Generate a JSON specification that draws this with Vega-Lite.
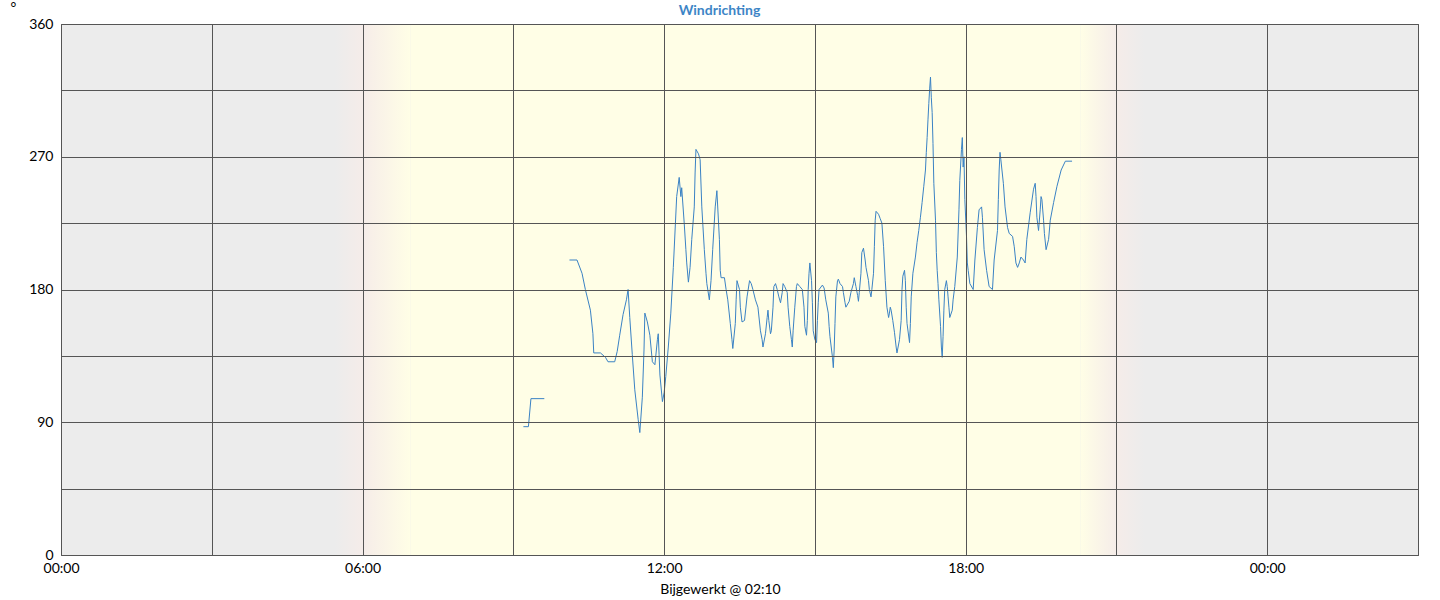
{
  "$schema": "https://vega.github.io/schema/vega-lite/v6.json",
  "width": 1357,
  "height": 531,
  "autosize": {"type": "none"},
  "padding": {"left": 61, "top": 24, "right": 22, "bottom": 45},
  "background": "#ffffff",
  "title": {"text": "Windrichting", "anchor": "middle", "frame": "group", "dx": -20, "dy": 26, "offset": 8, "fontSize": 14, "font": "Lato", "fontWeight": "bold", "color": "#3d85c6"},
  "datasets": {
    "wind": [
      {"seg": "a", "time": "09:12", "dir": 87},
      {"seg": "a", "time": "09:18", "dir": 87},
      {"seg": "a", "time": "09:21", "dir": 106},
      {"seg": "a", "time": "09:37", "dir": 106},
      {"seg": "b", "time": "10:07", "dir": 200},
      {"seg": "b", "time": "10:16", "dir": 200},
      {"seg": "b", "time": "10:22", "dir": 191},
      {"seg": "b", "time": "10:26", "dir": 180},
      {"seg": "b", "time": "10:32", "dir": 166},
      {"seg": "b", "time": "10:35", "dir": 150},
      {"seg": "b", "time": "10:36", "dir": 137},
      {"seg": "b", "time": "10:44", "dir": 137},
      {"seg": "b", "time": "10:50", "dir": 134},
      {"seg": "b", "time": "10:53", "dir": 131},
      {"seg": "b", "time": "11:01", "dir": 131},
      {"seg": "b", "time": "11:04", "dir": 138},
      {"seg": "b", "time": "11:07", "dir": 149},
      {"seg": "b", "time": "11:11", "dir": 163},
      {"seg": "b", "time": "11:15", "dir": 173},
      {"seg": "b", "time": "11:17", "dir": 180},
      {"seg": "b", "time": "11:19", "dir": 161},
      {"seg": "b", "time": "11:22", "dir": 136},
      {"seg": "b", "time": "11:25", "dir": 112},
      {"seg": "b", "time": "11:29", "dir": 92},
      {"seg": "b", "time": "11:31", "dir": 83},
      {"seg": "b", "time": "11:34", "dir": 107},
      {"seg": "b", "time": "11:36", "dir": 139},
      {"seg": "b", "time": "11:37", "dir": 164},
      {"seg": "b", "time": "11:40", "dir": 158},
      {"seg": "b", "time": "11:43", "dir": 149},
      {"seg": "b", "time": "11:46", "dir": 131},
      {"seg": "b", "time": "11:49", "dir": 129},
      {"seg": "b", "time": "11:52", "dir": 146},
      {"seg": "b", "time": "11:53", "dir": 150},
      {"seg": "b", "time": "11:54", "dir": 136},
      {"seg": "b", "time": "11:55", "dir": 122},
      {"seg": "b", "time": "11:58", "dir": 104},
      {"seg": "b", "time": "12:00", "dir": 110},
      {"seg": "b", "time": "12:02", "dir": 121},
      {"seg": "b", "time": "12:05", "dir": 141},
      {"seg": "b", "time": "12:08", "dir": 164},
      {"seg": "b", "time": "12:11", "dir": 195},
      {"seg": "b", "time": "12:15", "dir": 243},
      {"seg": "b", "time": "12:18", "dir": 256},
      {"seg": "b", "time": "12:20", "dir": 243},
      {"seg": "b", "time": "12:21", "dir": 249},
      {"seg": "b", "time": "12:24", "dir": 225},
      {"seg": "b", "time": "12:26", "dir": 207},
      {"seg": "b", "time": "12:27", "dir": 198},
      {"seg": "b", "time": "12:29", "dir": 185},
      {"seg": "b", "time": "12:31", "dir": 195},
      {"seg": "b", "time": "12:33", "dir": 214},
      {"seg": "b", "time": "12:36", "dir": 236},
      {"seg": "b", "time": "12:37", "dir": 259},
      {"seg": "b", "time": "12:38", "dir": 275},
      {"seg": "b", "time": "12:41", "dir": 272},
      {"seg": "b", "time": "12:43", "dir": 268},
      {"seg": "b", "time": "12:45", "dir": 236},
      {"seg": "b", "time": "12:48", "dir": 207},
      {"seg": "b", "time": "12:50", "dir": 191},
      {"seg": "b", "time": "12:51", "dir": 184},
      {"seg": "b", "time": "12:54", "dir": 173},
      {"seg": "b", "time": "12:56", "dir": 186},
      {"seg": "b", "time": "12:58", "dir": 207},
      {"seg": "b", "time": "13:01", "dir": 236},
      {"seg": "b", "time": "13:03", "dir": 247},
      {"seg": "b", "time": "13:06", "dir": 214},
      {"seg": "b", "time": "13:07", "dir": 193},
      {"seg": "b", "time": "13:08", "dir": 188},
      {"seg": "b", "time": "13:12", "dir": 188},
      {"seg": "b", "time": "13:14", "dir": 180},
      {"seg": "b", "time": "13:16", "dir": 173},
      {"seg": "b", "time": "13:19", "dir": 157},
      {"seg": "b", "time": "13:21", "dir": 146},
      {"seg": "b", "time": "13:22", "dir": 140},
      {"seg": "b", "time": "13:25", "dir": 157},
      {"seg": "b", "time": "13:26", "dir": 173},
      {"seg": "b", "time": "13:27", "dir": 186},
      {"seg": "b", "time": "13:30", "dir": 180},
      {"seg": "b", "time": "13:31", "dir": 168},
      {"seg": "b", "time": "13:33", "dir": 158},
      {"seg": "b", "time": "13:36", "dir": 159},
      {"seg": "b", "time": "13:39", "dir": 175},
      {"seg": "b", "time": "13:42", "dir": 186},
      {"seg": "b", "time": "13:44", "dir": 184},
      {"seg": "b", "time": "13:46", "dir": 180},
      {"seg": "b", "time": "13:49", "dir": 173},
      {"seg": "b", "time": "13:52", "dir": 168},
      {"seg": "b", "time": "13:55", "dir": 152},
      {"seg": "b", "time": "13:57", "dir": 146},
      {"seg": "b", "time": "13:58", "dir": 141},
      {"seg": "b", "time": "14:01", "dir": 150},
      {"seg": "b", "time": "14:03", "dir": 161},
      {"seg": "b", "time": "14:04", "dir": 166},
      {"seg": "b", "time": "14:05", "dir": 159},
      {"seg": "b", "time": "14:07", "dir": 150},
      {"seg": "b", "time": "14:08", "dir": 152},
      {"seg": "b", "time": "14:10", "dir": 168},
      {"seg": "b", "time": "14:11", "dir": 182},
      {"seg": "b", "time": "14:13", "dir": 184},
      {"seg": "b", "time": "14:15", "dir": 180},
      {"seg": "b", "time": "14:17", "dir": 175},
      {"seg": "b", "time": "14:19", "dir": 171},
      {"seg": "b", "time": "14:21", "dir": 178},
      {"seg": "b", "time": "14:22", "dir": 184},
      {"seg": "b", "time": "14:24", "dir": 182},
      {"seg": "b", "time": "14:27", "dir": 178},
      {"seg": "b", "time": "14:28", "dir": 168},
      {"seg": "b", "time": "14:30", "dir": 155},
      {"seg": "b", "time": "14:32", "dir": 146},
      {"seg": "b", "time": "14:33", "dir": 141},
      {"seg": "b", "time": "14:34", "dir": 152},
      {"seg": "b", "time": "14:36", "dir": 168},
      {"seg": "b", "time": "14:38", "dir": 182},
      {"seg": "b", "time": "14:39", "dir": 184},
      {"seg": "b", "time": "14:42", "dir": 182},
      {"seg": "b", "time": "14:45", "dir": 180},
      {"seg": "b", "time": "14:47", "dir": 168},
      {"seg": "b", "time": "14:48", "dir": 155},
      {"seg": "b", "time": "14:50", "dir": 149},
      {"seg": "b", "time": "14:51", "dir": 159},
      {"seg": "b", "time": "14:52", "dir": 180},
      {"seg": "b", "time": "14:53", "dir": 191},
      {"seg": "b", "time": "14:54", "dir": 198},
      {"seg": "b", "time": "14:56", "dir": 186},
      {"seg": "b", "time": "14:57", "dir": 171},
      {"seg": "b", "time": "14:58", "dir": 152},
      {"seg": "b", "time": "15:00", "dir": 146},
      {"seg": "b", "time": "15:02", "dir": 144},
      {"seg": "b", "time": "15:03", "dir": 159},
      {"seg": "b", "time": "15:04", "dir": 171},
      {"seg": "b", "time": "15:05", "dir": 180},
      {"seg": "b", "time": "15:09", "dir": 183},
      {"seg": "b", "time": "15:11", "dir": 181},
      {"seg": "b", "time": "15:13", "dir": 173},
      {"seg": "b", "time": "15:16", "dir": 164},
      {"seg": "b", "time": "15:17", "dir": 155},
      {"seg": "b", "time": "15:18", "dir": 148},
      {"seg": "b", "time": "15:21", "dir": 134},
      {"seg": "b", "time": "15:22", "dir": 127},
      {"seg": "b", "time": "15:23", "dir": 139},
      {"seg": "b", "time": "15:24", "dir": 157},
      {"seg": "b", "time": "15:25", "dir": 175},
      {"seg": "b", "time": "15:27", "dir": 186},
      {"seg": "b", "time": "15:28", "dir": 187},
      {"seg": "b", "time": "15:30", "dir": 184},
      {"seg": "b", "time": "15:33", "dir": 182},
      {"seg": "b", "time": "15:34", "dir": 178},
      {"seg": "b", "time": "15:36", "dir": 171},
      {"seg": "b", "time": "15:37", "dir": 168},
      {"seg": "b", "time": "15:41", "dir": 172},
      {"seg": "b", "time": "15:43", "dir": 178},
      {"seg": "b", "time": "15:46", "dir": 184},
      {"seg": "b", "time": "15:47", "dir": 188},
      {"seg": "b", "time": "15:49", "dir": 182},
      {"seg": "b", "time": "15:51", "dir": 176},
      {"seg": "b", "time": "15:52", "dir": 172},
      {"seg": "b", "time": "15:53", "dir": 178},
      {"seg": "b", "time": "15:55", "dir": 191},
      {"seg": "b", "time": "15:56", "dir": 205},
      {"seg": "b", "time": "15:58", "dir": 208},
      {"seg": "b", "time": "16:00", "dir": 200},
      {"seg": "b", "time": "16:01", "dir": 195},
      {"seg": "b", "time": "16:04", "dir": 186},
      {"seg": "b", "time": "16:05", "dir": 180},
      {"seg": "b", "time": "16:07", "dir": 175},
      {"seg": "b", "time": "16:08", "dir": 180},
      {"seg": "b", "time": "16:10", "dir": 191},
      {"seg": "b", "time": "16:11", "dir": 209},
      {"seg": "b", "time": "16:12", "dir": 227},
      {"seg": "b", "time": "16:13", "dir": 233},
      {"seg": "b", "time": "16:16", "dir": 231},
      {"seg": "b", "time": "16:18", "dir": 228},
      {"seg": "b", "time": "16:20", "dir": 225},
      {"seg": "b", "time": "16:22", "dir": 209},
      {"seg": "b", "time": "16:24", "dir": 186},
      {"seg": "b", "time": "16:26", "dir": 168},
      {"seg": "b", "time": "16:28", "dir": 161},
      {"seg": "b", "time": "16:29", "dir": 164},
      {"seg": "b", "time": "16:30", "dir": 168},
      {"seg": "b", "time": "16:31", "dir": 166},
      {"seg": "b", "time": "16:33", "dir": 159},
      {"seg": "b", "time": "16:35", "dir": 151},
      {"seg": "b", "time": "16:37", "dir": 141},
      {"seg": "b", "time": "16:38", "dir": 137},
      {"seg": "b", "time": "16:41", "dir": 146},
      {"seg": "b", "time": "16:43", "dir": 159},
      {"seg": "b", "time": "16:44", "dir": 180},
      {"seg": "b", "time": "16:45", "dir": 189},
      {"seg": "b", "time": "16:47", "dir": 193},
      {"seg": "b", "time": "16:48", "dir": 186},
      {"seg": "b", "time": "16:49", "dir": 168},
      {"seg": "b", "time": "16:50", "dir": 157},
      {"seg": "b", "time": "16:53", "dir": 144},
      {"seg": "b", "time": "16:54", "dir": 157},
      {"seg": "b", "time": "16:55", "dir": 175},
      {"seg": "b", "time": "16:57", "dir": 191},
      {"seg": "b", "time": "17:00", "dir": 202},
      {"seg": "b", "time": "17:02", "dir": 212},
      {"seg": "b", "time": "17:04", "dir": 220},
      {"seg": "b", "time": "17:06", "dir": 229},
      {"seg": "b", "time": "17:08", "dir": 239},
      {"seg": "b", "time": "17:10", "dir": 250},
      {"seg": "b", "time": "17:12", "dir": 261},
      {"seg": "b", "time": "17:13", "dir": 273},
      {"seg": "b", "time": "17:14", "dir": 283},
      {"seg": "b", "time": "17:15", "dir": 295},
      {"seg": "b", "time": "17:16", "dir": 306},
      {"seg": "b", "time": "17:17", "dir": 316},
      {"seg": "b", "time": "17:18", "dir": 324},
      {"seg": "b", "time": "17:19", "dir": 310},
      {"seg": "b", "time": "17:20", "dir": 300},
      {"seg": "b", "time": "17:21", "dir": 279},
      {"seg": "b", "time": "17:22", "dir": 252},
      {"seg": "b", "time": "17:24", "dir": 227},
      {"seg": "b", "time": "17:25", "dir": 205},
      {"seg": "b", "time": "17:26", "dir": 193},
      {"seg": "b", "time": "17:27", "dir": 184},
      {"seg": "b", "time": "17:28", "dir": 173},
      {"seg": "b", "time": "17:30", "dir": 155},
      {"seg": "b", "time": "17:31", "dir": 141},
      {"seg": "b", "time": "17:32", "dir": 134},
      {"seg": "b", "time": "17:33", "dir": 148},
      {"seg": "b", "time": "17:34", "dir": 166},
      {"seg": "b", "time": "17:35", "dir": 180},
      {"seg": "b", "time": "17:37", "dir": 186},
      {"seg": "b", "time": "17:38", "dir": 182},
      {"seg": "b", "time": "17:39", "dir": 175},
      {"seg": "b", "time": "17:40", "dir": 168},
      {"seg": "b", "time": "17:41", "dir": 161},
      {"seg": "b", "time": "17:44", "dir": 166},
      {"seg": "b", "time": "17:45", "dir": 173},
      {"seg": "b", "time": "17:47", "dir": 182},
      {"seg": "b", "time": "17:50", "dir": 202},
      {"seg": "b", "time": "17:52", "dir": 234},
      {"seg": "b", "time": "17:53", "dir": 254},
      {"seg": "b", "time": "17:55", "dir": 275},
      {"seg": "b", "time": "17:56", "dir": 283},
      {"seg": "b", "time": "17:57", "dir": 263},
      {"seg": "b", "time": "17:58", "dir": 270},
      {"seg": "b", "time": "17:59", "dir": 241},
      {"seg": "b", "time": "18:01", "dir": 216},
      {"seg": "b", "time": "18:02", "dir": 198},
      {"seg": "b", "time": "18:03", "dir": 193},
      {"seg": "b", "time": "18:05", "dir": 184},
      {"seg": "b", "time": "18:09", "dir": 180},
      {"seg": "b", "time": "18:11", "dir": 200},
      {"seg": "b", "time": "18:14", "dir": 222},
      {"seg": "b", "time": "18:16", "dir": 234},
      {"seg": "b", "time": "18:19", "dir": 236},
      {"seg": "b", "time": "18:20", "dir": 229},
      {"seg": "b", "time": "18:22", "dir": 207},
      {"seg": "b", "time": "18:25", "dir": 193},
      {"seg": "b", "time": "18:28", "dir": 182},
      {"seg": "b", "time": "18:32", "dir": 180},
      {"seg": "b", "time": "18:34", "dir": 200},
      {"seg": "b", "time": "18:38", "dir": 220},
      {"seg": "b", "time": "18:39", "dir": 241},
      {"seg": "b", "time": "18:40", "dir": 261},
      {"seg": "b", "time": "18:41", "dir": 273},
      {"seg": "b", "time": "18:42", "dir": 268},
      {"seg": "b", "time": "18:45", "dir": 252},
      {"seg": "b", "time": "18:47", "dir": 236},
      {"seg": "b", "time": "18:50", "dir": 222},
      {"seg": "b", "time": "18:52", "dir": 218},
      {"seg": "b", "time": "18:56", "dir": 216},
      {"seg": "b", "time": "18:58", "dir": 209},
      {"seg": "b", "time": "19:00", "dir": 198},
      {"seg": "b", "time": "19:02", "dir": 195},
      {"seg": "b", "time": "19:04", "dir": 198},
      {"seg": "b", "time": "19:06", "dir": 202},
      {"seg": "b", "time": "19:09", "dir": 200},
      {"seg": "b", "time": "19:11", "dir": 198},
      {"seg": "b", "time": "19:13", "dir": 214},
      {"seg": "b", "time": "19:17", "dir": 232},
      {"seg": "b", "time": "19:21", "dir": 248},
      {"seg": "b", "time": "19:23", "dir": 252},
      {"seg": "b", "time": "19:24", "dir": 243},
      {"seg": "b", "time": "19:25", "dir": 229},
      {"seg": "b", "time": "19:27", "dir": 220},
      {"seg": "b", "time": "19:29", "dir": 234},
      {"seg": "b", "time": "19:30", "dir": 243},
      {"seg": "b", "time": "19:31", "dir": 241},
      {"seg": "b", "time": "19:33", "dir": 227},
      {"seg": "b", "time": "19:34", "dir": 218},
      {"seg": "b", "time": "19:36", "dir": 207},
      {"seg": "b", "time": "19:39", "dir": 214},
      {"seg": "b", "time": "19:41", "dir": 227},
      {"seg": "b", "time": "19:45", "dir": 239},
      {"seg": "b", "time": "19:49", "dir": 250},
      {"seg": "b", "time": "19:54", "dir": 261},
      {"seg": "b", "time": "19:59", "dir": 267},
      {"seg": "b", "time": "20:07", "dir": 267}
    ]
  },
  "layer": [
    {
      "data": {"values": [{"start": "06:57", "end": "20:17"}], "format": {"parse": {"start": "utc:'%H:%M'", "end": "utc:'%H:%M'"}}},
      "mark": {"type": "rect", "color": "#fffee6"},
      "encoding": {
        "x": {"field": "start", "type": "temporal"},
        "x2": {"field": "end"}
      }
    },
    {
      "data": {"values": [{"start": "05:27", "end": "06:57"}], "format": {"parse": {"start": "utc:'%H:%M'", "end": "utc:'%H:%M'"}}},
      "mark": {"type": "rect", "color": {"gradient": "linear", "x1": 0, "y1": 0, "x2": 1, "y2": 0, "stops": [
        {"offset": 0, "color": "#ececec"},
        {"offset": 0.37, "color": "#f5ece9"},
        {"offset": 0.5, "color": "#f8f0e8"},
        {"offset": 1, "color": "#fffee6"}
      ]}},
      "encoding": {
        "x": {"field": "start", "type": "temporal"},
        "x2": {"field": "end"}
      }
    },
    {
      "data": {"values": [{"start": "20:17", "end": "21:34"}], "format": {"parse": {"start": "utc:'%H:%M'", "end": "utc:'%H:%M'"}}},
      "mark": {"type": "rect", "color": {"gradient": "linear", "x1": 0, "y1": 0, "x2": 1, "y2": 0, "stops": [
        {"offset": 0, "color": "#fffee6"},
        {"offset": 0.57, "color": "#f5ece9"},
        {"offset": 1, "color": "#ececec"}
      ]}},
      "encoding": {
        "x": {"field": "start", "type": "temporal"},
        "x2": {"field": "end"}
      }
    },
    {
      "data": {"name": "wind", "format": {"parse": {"time": "utc:'%H:%M'"}}},
      "mark": {"type": "line", "color": "#3a82c4", "strokeWidth": 1, "interpolate": "linear"},
      "encoding": {
        "x": {
          "field": "time", "type": "temporal",
          "scale": {"type": "utc", "domain": [
            {"year": 1900, "month": 1, "date": 1, "hours": 0, "utc": true},
            {"year": 1900, "month": 1, "date": 2, "hours": 3, "utc": true}
          ]},
          "axis": {
            "zindex": 1,
            "title": "Bijgewerkt @ 02:10",
            "titleX": 659, "titleY": 34, "titleAlign": "center", "titleBaseline": "middle",
            "titleFontWeight": "normal", "titleFontSize": 14, "titleColor": "#000000",
            "values": [
              {"year": 1900, "month": 1, "date": 1, "hours": 0, "utc": true},
              {"year": 1900, "month": 1, "date": 1, "hours": 3, "utc": true},
              {"year": 1900, "month": 1, "date": 1, "hours": 6, "utc": true},
              {"year": 1900, "month": 1, "date": 1, "hours": 9, "utc": true},
              {"year": 1900, "month": 1, "date": 1, "hours": 12, "utc": true},
              {"year": 1900, "month": 1, "date": 1, "hours": 15, "utc": true},
              {"year": 1900, "month": 1, "date": 1, "hours": 18, "utc": true},
              {"year": 1900, "month": 1, "date": 1, "hours": 21, "utc": true},
              {"year": 1900, "month": 1, "date": 2, "hours": 0, "utc": true},
              {"year": 1900, "month": 1, "date": 2, "hours": 3, "utc": true}
            ],
            "labelExpr": "utchours(datum.value) % 6 == 0 ? utcFormat(datum.value, '%H:%M') : ''",
            "labelPadding": 6,
            "labelFlush": false,
            "labelOverlap": false
          }
        },
        "y": {
          "field": "dir", "type": "quantitative",
          "scale": {"domain": [0, 360], "nice": false, "zero": true},
          "axis": {
            "zindex": 1,
            "title": "°", "titleAngle": 0, "titleX": -48, "titleY": -17, "titleAlign": "center", "titleBaseline": "middle",
            "titleFontWeight": "normal", "titleFontSize": 14, "titleColor": "#000000",
            "values": [0, 45, 90, 135, 180, 225, 270, 315, 360],
            "labelExpr": "datum.value % 90 == 0 ? datum.label : ''",
            "labelPadding": 8,
            "labelOverlap": false
          }
        },
        "detail": {"field": "seg", "type": "nominal"}
      }
    }
  ],
  "config": {
    "font": "Lato",
    "view": {"fill": "#ececec", "stroke": "#555555", "strokeWidth": 1},
    "axis": {
      "labelFont": "Lato", "titleFont": "Lato", "labelFontSize": 14, "labelColor": "#000000",
      "grid": true, "gridColor": "#555555", "gridOpacity": 1, "gridWidth": 1,
      "domain": false, "ticks": false, "zindex": 1
    }
  }
}
